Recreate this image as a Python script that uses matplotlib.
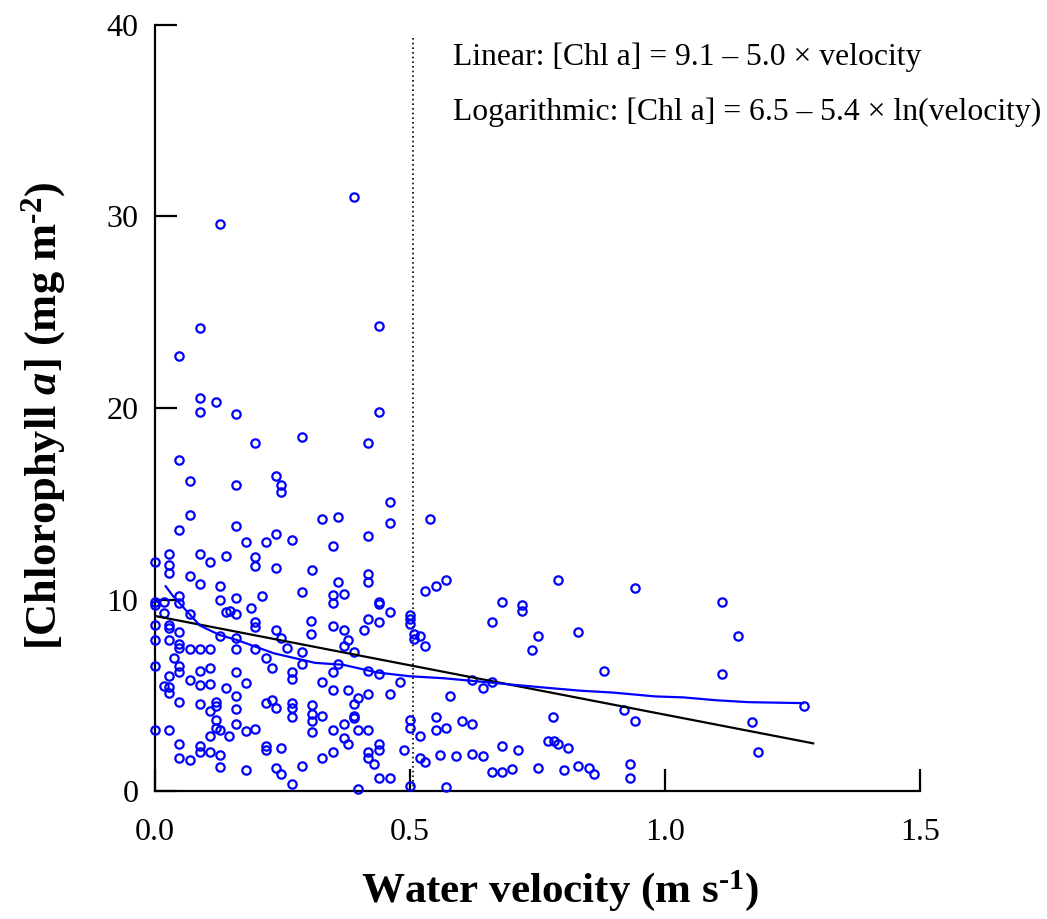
import matplotlib
matplotlib.use("Agg")
import matplotlib.pyplot as plt
import numpy as np

plt.rcParams['font.family'] = ['Liberation Serif', 'DejaVu Serif']
plt.rcParams['mathtext.fontset'] = 'custom'
plt.rcParams['mathtext.rm'] = 'Liberation Serif:bold'
plt.rcParams['mathtext.it'] = 'Liberation Serif:bold:italic'
plt.rcParams['mathtext.bf'] = 'Liberation Serif:bold'
plt.rcParams['mathtext.bfit'] = 'Liberation Serif:bold:italic'

# ---- data ----
velocity = [
    0.39, 0.127, 0.088, 0.048, 0.439,
    0.088, 0.12, 0.088, 0.158, 0.288, 0.197, 0.048, 0.068, 0.158, 0.237, 0.248, 0.248,
    0.068, 0.048, 0.158, 0.178, 0.217, 0.237, 0.268, 0.0, 0.027, 0.027, 0.027, 0.088,
    0.107, 0.139, 0.197, 0.197, 0.237, 0.307, 0.068, 0.088, 0.127, 0.288, 0.048, 0.127,
    0.158, 0.209, 0.0, 0.017, 0.048,
    0.439, 0.417, 0.46, 0.327, 0.358, 0.46, 0.417, 0.539, 0.349, 0.358, 0.417, 0.417,
    0.349, 0.37, 0.349, 0.439, 0.529, 0.55, 0.57, 0.439,
    0.79, 0.941, 0.68, 0.719, 1.112,
    0.017, 0.068, 0.139, 0.147, 0.158, 0.188, 0.197, 0.197, 0.306, 0.306, 0.0, 0.027,
    0.027, 0.048, 0.0, 0.027, 0.048, 0.048, 0.068, 0.088, 0.107, 0.127, 0.158, 0.158,
    0.197, 0.237, 0.248, 0.258, 0.288, 0.217, 0.229, 0.288, 0.037, 0.0, 0.048, 0.048,
    0.088, 0.107, 0.158, 0.268, 0.268, 0.027, 0.068, 0.017, 0.027, 0.027, 0.088, 0.107,
    0.139, 0.178, 0.158, 0.048, 0.088, 0.119, 0.119, 0.107, 0.158, 0.217, 0.229, 0.237,
    0.268, 0.268, 0.268, 0.307, 0.307, 0.307, 0.307, 0.119, 0.119, 0.127, 0.158, 0.107,
    0.146, 0.178, 0.197, 0.0, 0.027, 0.048, 0.088, 0.088, 0.107, 0.127, 0.217, 0.217,
    0.248, 0.048, 0.068, 0.127, 0.178, 0.237, 0.248, 0.288, 0.268, 0.0,
    0.46, 0.5, 0.5, 0.5, 0.349, 0.37, 0.409, 0.417, 0.439, 0.378, 0.37, 0.39, 0.508,
    0.508, 0.52, 0.529, 0.358, 0.349, 0.417, 0.439, 0.327, 0.48, 0.349, 0.378, 0.417,
    0.46, 0.397, 0.39, 0.578, 0.621, 0.642, 0.327, 0.39, 0.39, 0.37, 0.349, 0.397,
    0.417, 0.37, 0.378, 0.439, 0.439, 0.349, 0.417, 0.417, 0.429, 0.327, 0.488, 0.5,
    0.5, 0.519, 0.519, 0.529, 0.55, 0.55, 0.57, 0.601, 0.621, 0.558, 0.59, 0.621,
    0.643, 0.439, 0.46, 0.397, 0.5, 0.57,
    0.719, 0.66, 0.75, 0.829, 0.739, 0.88, 0.66, 0.919, 0.941, 0.78, 0.77, 0.782, 0.79,
    0.809, 0.68, 0.711, 0.66, 0.68, 0.7, 0.75, 0.801, 0.829, 0.851, 0.86, 0.931, 0.931,
    1.142, 1.111, 1.272, 1.17, 1.182,
]
chl_a = [
    31.0, 29.6, 24.2, 22.7, 24.3,
    20.5, 20.3, 19.8, 19.7, 18.5, 18.2, 17.3, 16.2, 16.0, 16.45, 16.0, 15.6,
    14.4, 13.65, 13.85, 13.0, 13.0, 13.45, 13.1, 11.95, 12.4, 11.8, 11.4, 12.4,
    11.95, 12.3, 12.2, 11.75, 11.65, 11.55, 11.25, 10.8, 10.7, 10.4, 10.2, 10.0,
    10.1, 10.2, 9.9, 9.9, 9.8,
    19.8, 18.2, 15.1, 14.2, 14.3, 14.0, 13.3, 14.2, 12.8, 10.9, 11.35, 10.9,
    10.25, 10.3, 9.8, 9.9, 10.45, 10.7, 11.05, 9.75,
    11.0, 10.6, 9.9, 9.7, 9.9,
    9.3, 9.25, 9.35, 9.4, 9.25, 9.55, 8.85, 8.55, 8.9, 8.2, 8.7, 8.7,
    8.5, 8.3, 7.9, 7.9, 7.7, 7.5, 7.4, 7.4, 7.4, 8.1, 8.0, 7.45,
    7.4, 8.4, 8.0, 7.5, 7.25, 6.95, 6.45, 6.65, 6.95, 6.55, 6.55, 6.2,
    6.3, 6.45, 6.25, 6.2, 5.85, 6.0, 5.8, 5.5, 5.45, 5.15, 5.55, 5.6,
    5.4, 5.65, 4.95, 4.65, 4.55, 4.65, 4.45, 4.2, 4.3, 4.6, 4.75, 4.35,
    4.6, 4.35, 3.9, 4.5, 4.05, 3.65, 3.1, 3.7, 3.3, 3.2, 3.5, 2.9,
    2.9, 3.15, 3.25, 3.2, 3.2, 2.45, 2.35, 2.05, 2.05, 1.9, 2.35, 2.15,
    2.25, 1.75, 1.65, 1.25, 1.1, 1.2, 0.9, 1.3, 0.4, 9.7,
    9.35, 9.2, 9.0, 8.75, 8.65, 8.4, 8.4, 9.0, 8.85, 7.9, 7.6, 7.25, 8.2,
    7.95, 8.1, 7.6, 6.65, 6.2, 6.3, 6.1, 5.7, 5.7, 5.3, 5.3, 5.05,
    5.05, 4.85, 4.55, 4.95, 5.8, 5.4, 3.95, 3.95, 3.8, 3.5, 3.2, 3.2,
    3.2, 2.8, 2.45, 2.45, 2.15, 2.05, 2.05, 1.75, 1.4, 1.75, 2.15, 3.7,
    3.3, 2.9, 1.75, 1.55, 3.85, 3.2, 3.3, 3.65, 3.5, 1.9, 1.85, 1.95,
    1.85, 0.7, 0.7, 0.1, 0.3, 0.2,
    9.4, 8.85, 8.1, 8.3, 7.35, 6.3, 5.7, 4.25, 3.65, 3.85, 2.6, 2.6, 2.45,
    2.25, 2.35, 2.15, 1.0, 1.0, 1.15, 1.2, 1.1, 1.3, 1.2, 0.9, 1.4, 0.7,
    8.1, 6.1, 4.45, 3.6, 2.05,
]

# linear fit line (end points)
lin_x = [0.0, 1.29]
lin_y = [9.15, 2.5]

# smoothed (logarithmic) curve
smooth_x = [0.021, 0.035, 0.088, 0.127, 0.16, 0.233, 0.314, 0.369, 0.435, 0.5, 0.565,
            0.647, 0.706, 0.768, 0.833, 0.898, 0.98, 1.035, 1.1, 1.163, 1.27]
smooth_y = [10.7, 10.2, 8.65, 8.15, 7.9, 7.2, 6.7, 6.6, 6.2, 6.0, 5.9,
            5.7, 5.55, 5.4, 5.25, 5.15, 4.95, 4.9, 4.75, 4.65, 4.6]

threshold = 0.505

x_ticks = [0.0, 0.5, 1.0, 1.5]
x_tick_labels = ['0.0', '0.5', '1.0', '1.5']
y_ticks = [0, 10, 20, 30, 40]
y_tick_labels = ['0', '10', '20', '30', '40']

# ---- figure ----
fig = plt.figure(figsize=(10.47, 9.19), dpi=100)
ax = fig.add_axes([0.148, 0.139, 0.731, 0.834])

ax.plot(velocity, chl_a, linestyle='none', marker='o', markersize=6.0,
        markerfacecolor='none', markeredgecolor='#0000ff', markeredgewidth=1.6,
        clip_on=False, zorder=3)
ax.plot(lin_x, lin_y, color='black', linewidth=1.6, zorder=4)
ax.plot(smooth_x, smooth_y, color='#0000ff', linewidth=1.6, zorder=4)
ax.vlines(threshold, 0, 39.4, colors='black', linestyles=(0, (1, 1.8)), linewidth=1.2)

ax.set_xlim(0, 1.5)
ax.set_ylim(0, 40)
ax.set_xticks(x_ticks)
ax.set_xticklabels(x_tick_labels)
ax.set_yticks(y_ticks)
ax.set_yticklabels(y_tick_labels)
for s in ['top', 'right']:
    ax.spines[s].set_visible(False)
for s in ['left', 'bottom']:
    ax.spines[s].set_linewidth(1.6)
ax.tick_params(direction='in', length=16, width=1.6, labelsize=23)
ax.tick_params(axis='x', pad=19)
ax.tick_params(axis='y', pad=12)

ax.set_xlabel(r'$\text{Water velocity (m s}^{\text{-1}}\text{)}$', fontsize=31)
ax.xaxis.set_label_coords(0.529, -0.100)
fig.text(44 / 1047, 1 - 416 / 919,
         r'$\text{[Chlorophyll }\mathit{a}\text{] (mg m}^{\text{-2}}\text{)}$',
         fontsize=32, rotation=90, ha='center', va='center')

ax.text(0.39, 0.958, 'Linear: [Chl a] = 9.1 \u2013 5.0 \u00d7 velocity', transform=ax.transAxes,
        fontsize=22.8, ha='left', va='center')
ax.text(0.39, 0.886, 'Logarithmic: [Chl a] = 6.5 \u2013 5.4 \u00d7 ln(velocity)', transform=ax.transAxes,
        fontsize=22.8, ha='left', va='center', clip_on=False)

fig.savefig('out.png', dpi=100)
